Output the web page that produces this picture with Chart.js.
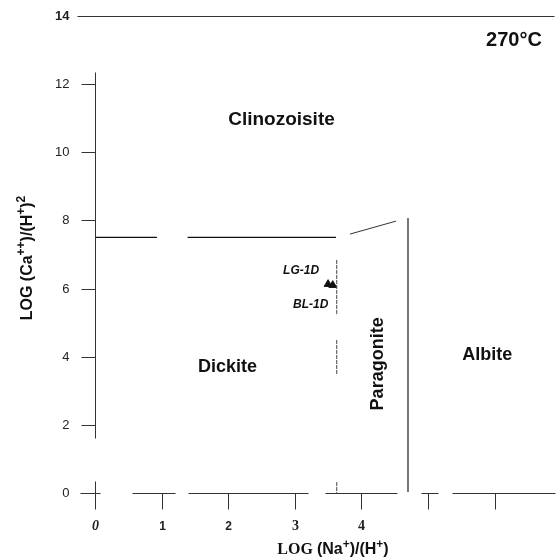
<!DOCTYPE html>
<html>
<head>
<meta charset="utf-8">
<script src="https://cdn.jsdelivr.net/npm/chart.js@4/dist/chart.umd.min.js"></script>
<style>
  html, body { margin: 0; padding: 0; background: #fff; }
  canvas { display: block; }
</style>
</head>
<body>
<canvas id="chart" width="560" height="560"></canvas>
<script>
'use strict';

// phase boundaries (log units)
const czDkX = [0, 0.93, 1.15, 1.39, 3.62];
const czDkY = [7.5, 7.5, null, 7.5, 7.5];
const czPgX = [3.83, 4.52];
const czPgY = [7.6, 7.98];
const pgAbX = [4.7, 4.7];
const pgAbY = [0.03, 8.07];
const dkPgX = [3.63, 3.63, 3.63, 3.63, 3.63, 3.63, 3.63, 3.63];
const dkPgY = [6.84, 5.22, null, 4.49, 3.46, null, 0.32, 0];

// water samples
const sampleNames = ['LG-1D', 'BL-1D'];
const sampleX = [3.5, 3.57];
const sampleY = [6.13, 6.1];

// axes
const xTicks = [0, 1, 2, 3, 4, 5, 6];
const xTickLabels = ['0', '1', '2', '3', '4', '', ''];
const yTicks = [0, 2, 4, 6, 8, 10, 12, 14];
const yTickLabels = ['0', '2', '4', '6', '8', '10', '12', '14'];

const SANS = '"Liberation Sans", Arial, sans-serif';
const SERIF = '"Liberation Serif", "Times New Roman", serif';

function toXY(xs, ys) {
    return xs.map((v, i) => ({ x: v, y: ys[i] }));
}

function boundary(xs, ys, color, width, dash) {
    return {
        data: toXY(xs, ys),
        borderColor: color,
        borderWidth: width,
        borderDash: dash || [],
        pointRadius: 0,
        fill: false,
        clip: false
    };
}

// text with superscripts, x = left start, y = baseline
function richWidth(ctx, parts) {
    let w = 0;
    parts.forEach(p => { ctx.font = p.font; w += ctx.measureText(p.text).width; });
    return w;
}
function richText(ctx, parts, x, y) {
    let cx = x;
    parts.forEach(p => {
        ctx.font = p.font;
        ctx.fillText(p.text, cx, y - (p.rise || 0));
        cx += ctx.measureText(p.text).width;
    });
}

function seg(ctx, x1, y1, x2, y2) {
    ctx.beginPath();
    ctx.moveTo(x1, y1);
    ctx.lineTo(x2, y2);
    ctx.stroke();
}

// scanned axis line has breaks in it
const xAxisPieces = [[-0.22, 0.07], [0.56, 1.2], [1.39, 3.2], [3.46, 4.53], [4.9, 5.15], [5.36, 6.9]];

const axisDecor = {
    id: 'axisDecor',
    afterDraw(chart) {
        const { ctx } = chart;
        const sx = chart.scales.x, sy = chart.scales.y;
        const px = v => Math.round(sx.getPixelForValue(v)) + 0.5;
        const py = v => Math.round(sy.getPixelForValue(v)) + 0.5;
        const x0 = px(0), y0 = py(0);

        ctx.save();
        ctx.strokeStyle = '#333';
        ctx.lineWidth = 1;
        ctx.fillStyle = '#222';

        // top frame line at 14
        seg(ctx, x0 - 18, py(14), sx.right, py(14));
        // y axis
        seg(ctx, x0, py(12.35), x0, py(1.6));
        // cross at origin
        seg(ctx, x0, y0 - 12, x0, y0 + 16);

        ctx.textAlign = 'right';
        ctx.textBaseline = 'middle';
        yTicks.forEach((v, i) => {
            const y = py(v);
            if (v !== 14) seg(ctx, x0 - 14, y, x0, y);
            ctx.font = (v === 14 ? 'bold ' : '') + '13px ' + SANS;
            ctx.fillText(yTickLabels[i], x0 - 26, y);
        });

        xAxisPieces.forEach(p => seg(ctx, px(p[0]), y0, px(p[1]), y0));

        ctx.textAlign = 'center';
        xTicks.forEach((v, i) => {
            const x = px(v);
            if (v !== 0) seg(ctx, x, y0, x, y0 + 16);
            const lab = xTickLabels[i];
            if (!lab) return;
            if (v === 0) ctx.font = 'italic bold 14px ' + SERIF;
            else if (v <= 2) ctx.font = 'bold 12px ' + SANS;
            else ctx.font = 'bold 14px ' + SERIF;
            ctx.fillText(lab, x, y0 + 33);
        });

        // axis titles
        ctx.fillStyle = '#111';
        ctx.textAlign = 'left';
        ctx.textBaseline = 'alphabetic';
        const xTitle = [
            { text: 'LOG ', font: 'bold 16px ' + SERIF },
            { text: '(Na', font: 'bold 16px ' + SANS },
            { text: '+', font: 'bold 12px ' + SANS, rise: 6 },
            { text: ')/(H', font: 'bold 16px ' + SANS },
            { text: '+', font: 'bold 12px ' + SANS, rise: 6 },
            { text: ')', font: 'bold 16px ' + SANS }
        ];
        const xw = richWidth(ctx, xTitle);
        richText(ctx, xTitle, 333 - xw / 2, 554);

        const yTitle = [
            { text: 'LOG (Ca', font: 'bold 16px ' + SANS },
            { text: '++', font: 'bold 12px ' + SANS, rise: 7 },
            { text: ')/(H', font: 'bold 16px ' + SANS },
            { text: '+', font: 'bold 12px ' + SANS, rise: 7 },
            { text: ')', font: 'bold 16px ' + SANS },
            { text: '2', font: 'bold 12px ' + SANS, rise: 7 }
        ];
        const yw = richWidth(ctx, yTitle);
        ctx.translate(32, 258);
        ctx.rotate(-Math.PI / 2);
        richText(ctx, yTitle, -yw / 2, 0);
        ctx.restore();
    }
};

// mineral field names and sample tags
const fieldLabels = {
    id: 'fieldLabels',
    afterDatasetsDraw(chart) {
        const { ctx } = chart;
        const sx = chart.scales.x, sy = chart.scales.y;
        ctx.save();
        ctx.fillStyle = '#111';
        ctx.textAlign = 'center';
        ctx.textBaseline = 'middle';

        ctx.font = 'bold 19px ' + SANS;
        ctx.fillText('Clinozoisite', sx.getPixelForValue(2.8), sy.getPixelForValue(10.95));
        ctx.font = 'bold 18px ' + SANS;
        ctx.fillText('Dickite', sx.getPixelForValue(1.99), sy.getPixelForValue(3.7));
        ctx.fillText('Albite', sx.getPixelForValue(5.89), sy.getPixelForValue(4.05));

        ctx.save();
        ctx.translate(sx.getPixelForValue(4.25), sy.getPixelForValue(3.79));
        ctx.rotate(-Math.PI / 2);
        ctx.fillText('Paragonite', 0, 0);
        ctx.restore();

        ctx.textAlign = 'right';
        ctx.font = 'bold 20px ' + SANS;
        ctx.fillText('270°C', sx.getPixelForValue(6.71), sy.getPixelForValue(13.27));

        ctx.font = 'italic bold 12px ' + SANS;
        ctx.textAlign = 'center';
        ctx.fillText(sampleNames[0], sx.getPixelForValue(sampleX[0]) - 27, sy.getPixelForValue(sampleY[0]) - 13);
        ctx.fillText(sampleNames[1], sx.getPixelForValue(sampleX[1]) - 22, sy.getPixelForValue(sampleY[1]) + 20);
        ctx.restore();
    }
};

new Chart(document.getElementById('chart'), {
    type: 'line',
    data: {
        datasets: [
            boundary(czDkX, czDkY, '#111', 1.2),
            boundary(czPgX, czPgY, '#333', 1),
            boundary(pgAbX, pgAbY, '#777', 2),
            boundary(dkPgX, dkPgY, '#444', 1, [4, 1]),
            {
                data: toXY(sampleX, sampleY),
                showLine: false,
                pointStyle: 'triangle',
                pointRadius: 4.5,
                backgroundColor: '#111',
                borderColor: '#111',
                borderWidth: 1
            }
        ]
    },
    options: {
        responsive: false,
        animation: false,
        devicePixelRatio: 1,
        layout: { padding: { left: 95, right: 0, top: 16, bottom: 67 } },
        plugins: { legend: { display: false }, tooltip: { enabled: false } },
        scales: {
            x: { type: 'linear', min: 0, max: 6.9, display: false },
            y: { type: 'linear', min: 0, max: 14, display: false }
        }
    },
    plugins: [axisDecor, fieldLabels]
});
</script>
</body>
</html>
